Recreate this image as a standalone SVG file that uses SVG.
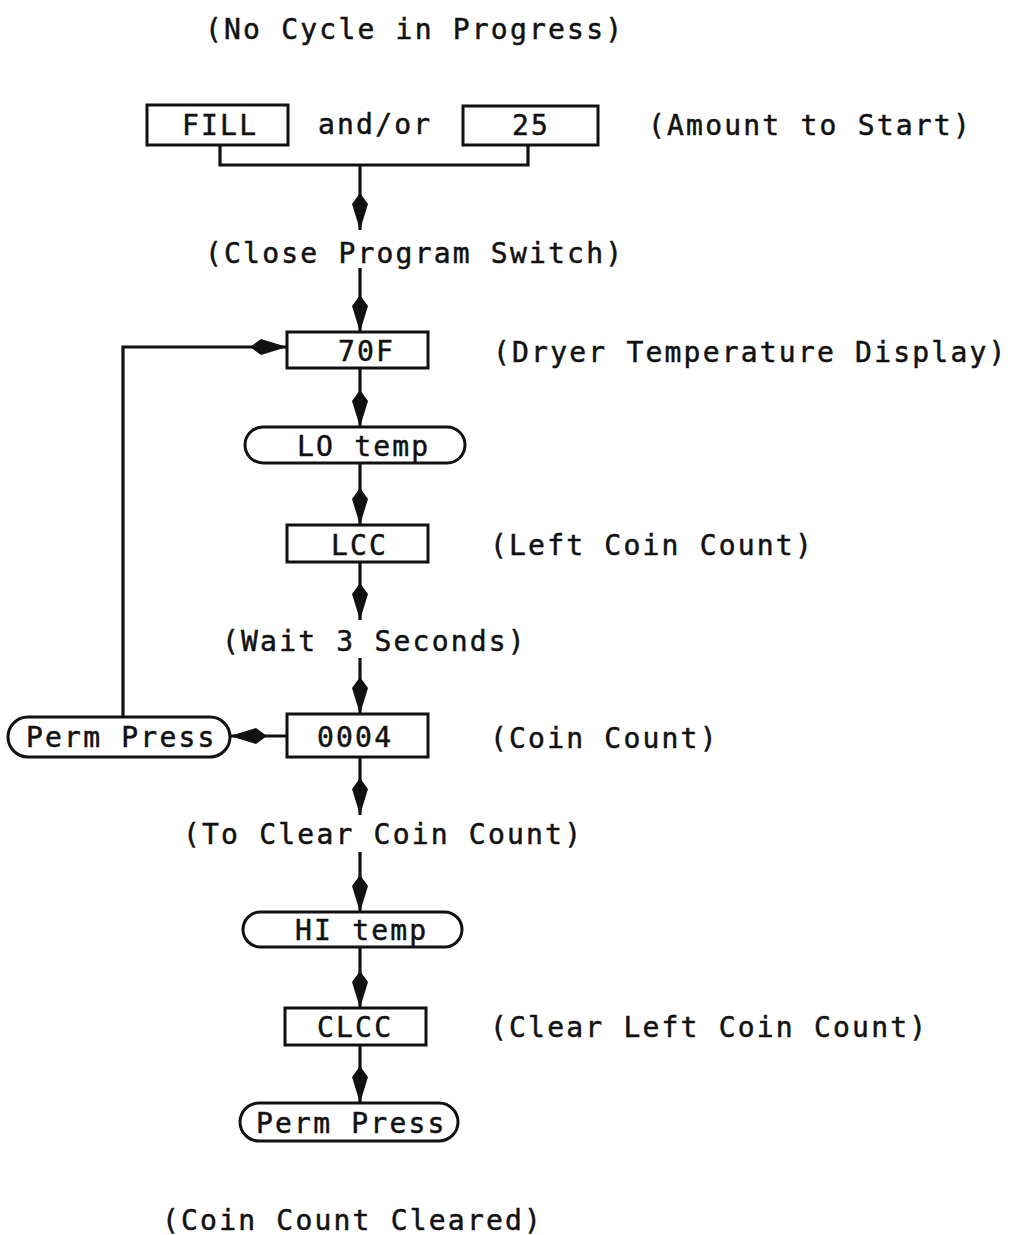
<svg xmlns="http://www.w3.org/2000/svg" width="1012" height="1235" viewBox="0 0 1012 1235">
<style>
text{font-family:"DejaVu Sans Mono","Liberation Mono",monospace;font-size:28px;letter-spacing:2.2px;fill:#111;stroke:#111;stroke-width:0.5}
.box{fill:#fff;stroke:#111;stroke-width:3}
.ln{fill:none;stroke:#111;stroke-width:3.2}
</style>
<defs>
<marker id="kite" markerUnits="userSpaceOnUse" markerWidth="42" markerHeight="20" viewBox="-40 -10 42 20" refX="0" refY="0" orient="auto">
<path d="M0,0 L-26,-8 L-37,0 L-26,8 Z" fill="#111"/>
</marker>
</defs>
<g id="labels">
<text x="205" y="39">(No Cycle in Progress)</text>
<text x="318" y="134">and/or</text>
<text x="648" y="135">(Amount to Start)</text>
<text x="205" y="263">(Close Program Switch)</text>
<text x="493" y="362">(Dryer Temperature Display)</text>
<text x="490" y="555">(Left Coin Count)</text>
<text x="222" y="651">(Wait 3 Seconds)</text>
<text x="490" y="748">(Coin Count)</text>
<text x="183" y="844">(To Clear Coin Count)</text>
<text x="490" y="1037">(Clear Left Coin Count)</text>
<text x="162" y="1230">(Coin Count Cleared)</text>
</g>
<g id="connectors">
<polyline class="ln" points="220,145 220,165 528,165 528,145"/>
<line class="ln" x1="360" y1="165" x2="360" y2="230" marker-end="url(#kite)"/>
<line class="ln" x1="360" y1="268" x2="360" y2="332" marker-end="url(#kite)"/>
<line class="ln" x1="360" y1="368" x2="360" y2="427" marker-end="url(#kite)"/>
<line class="ln" x1="360" y1="463" x2="360" y2="525" marker-end="url(#kite)"/>
<line class="ln" x1="360" y1="562" x2="360" y2="620" marker-end="url(#kite)"/>
<line class="ln" x1="360" y1="658" x2="360" y2="714" marker-end="url(#kite)"/>
<line class="ln" x1="360" y1="757" x2="360" y2="815" marker-end="url(#kite)"/>
<line class="ln" x1="360" y1="852" x2="360" y2="912" marker-end="url(#kite)"/>
<line class="ln" x1="360" y1="947" x2="360" y2="1008" marker-end="url(#kite)"/>
<line class="ln" x1="360" y1="1045" x2="360" y2="1103" marker-end="url(#kite)"/>
<line class="ln" x1="287" y1="736" x2="230" y2="736" marker-end="url(#kite)"/>
<polyline class="ln" points="123,717 123,347 287,347" marker-end="url(#kite)"/>
</g>
<g id="fill"><rect class="box" x="147" y="105" width="141" height="40"/><text x="182" y="135">FILL</text></g>
<g id="n25"><rect class="box" x="463" y="106" width="135" height="39"/><text x="512" y="135">25</text></g>
<g id="n70F"><rect class="box" x="287" y="332" width="141" height="36"/><text x="338" y="361">70F</text></g>
<g id="lotemp"><rect class="box" x="245" y="427" width="220" height="36" rx="18"/><text x="297" y="456">LO temp</text></g>
<g id="lcc"><rect class="box" x="287" y="525" width="141" height="37"/><text x="331" y="555">LCC</text></g>
<g id="n0004"><rect class="box" x="287" y="714" width="141" height="43"/><text x="317" y="747">0004</text></g>
<g id="permpress1"><rect class="box" x="8" y="717" width="222" height="40" rx="20"/><text x="26" y="747">Perm Press</text></g>
<g id="hitemp"><rect class="box" x="243" y="912" width="219" height="35" rx="17.5"/><text x="295" y="940">HI temp</text></g>
<g id="clcc"><rect class="box" x="285" y="1008" width="141" height="37"/><text x="317" y="1037">CLCC</text></g>
<g id="permpress2"><rect class="box" x="240" y="1103" width="218" height="38" rx="19"/><text x="256" y="1133">Perm Press</text></g>
</svg>
